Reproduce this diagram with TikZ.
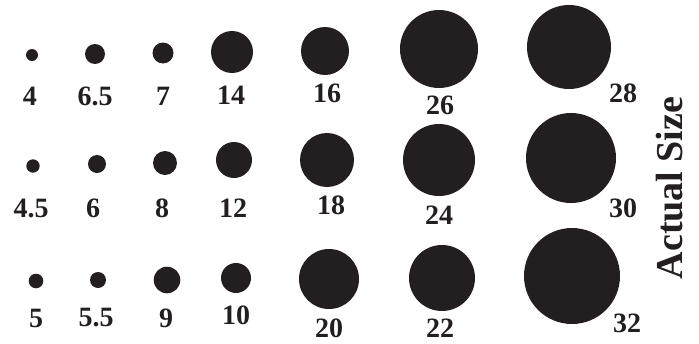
\documentclass[tikz,border=0pt]{standalone}
\usepackage{xcolor}
\usepackage{tikz}
\usepackage{fontspec}
\setmainfont{Liberation Serif}
\definecolor{dotblack}{HTML}{231F20}

\begin{document}
\begin{tikzpicture}[x=1pt,y=-1pt,
  sizelabel/.style={inner sep=0pt,text=dotblack,font=\fontsize{28}{28}\selectfont\bfseries}]
  \useasboundingbox (0,0) rectangle (699,343);
  % top row
  \fill[dotblack] (32,55) circle[radius=6];
  \fill[dotblack] (95,54) circle[radius=10];
  \fill[dotblack] (163,53) circle[radius=10.5];
  \fill[dotblack] (232,52) circle[radius=21];
  \fill[dotblack] (325,51) circle[radius=24];
  \fill[dotblack] (439,49) circle[radius=39];
  \fill[dotblack] (569,47) circle[radius=42];
  \node[sizelabel] (l4) at (30,96) {4};
  \node[sizelabel] (l6p5) at (95,96) {6.5};
  \node[sizelabel] (l7) at (163,96) {7};
  \node[sizelabel] (l14) at (231,95) {14};
  \node[sizelabel] (l16) at (327,93) {16};
  \node[sizelabel] (l26) at (440,105) {26};
  \node[sizelabel] (l28) at (623,93) {28};
  % middle row
  \fill[dotblack] (33,166) circle[radius=6.7];
  \fill[dotblack] (97,164) circle[radius=9];
  \fill[dotblack] (165,163) circle[radius=12];
  \fill[dotblack] (234,160) circle[radius=18];
  \fill[dotblack] (327,160) circle[radius=27];
  \fill[dotblack] (439,160) circle[radius=36];
  \fill[dotblack] (571,158) circle[radius=45];
  \node[sizelabel] (l4p5) at (31,208) {4.5};
  \node[sizelabel] (l6) at (93,208) {6};
  \node[sizelabel] (l8) at (162,208) {8};
  \node[sizelabel] (l12) at (233,208) {12};
  \node[sizelabel] (l18) at (331,205) {18};
  \node[sizelabel] (l24) at (439,215) {24};
  \node[sizelabel] (l30) at (623,208) {30};
  % bottom row
  \fill[dotblack] (36,281) circle[radius=7.3];
  \fill[dotblack] (98,280) circle[radius=8];
  \fill[dotblack] (167,280) circle[radius=13.3];
  \fill[dotblack] (236,278) circle[radius=15];
  \fill[dotblack] (329,279) circle[radius=30];
  \fill[dotblack] (442,278) circle[radius=33];
  \fill[dotblack] (572,276) circle[radius=48];
  \node[sizelabel] (l5) at (36,318) {5};
  \node[sizelabel] (l5p5) at (96,318) {5.5};
  \node[sizelabel] (l9) at (166,318) {9};
  \node[sizelabel] (l10) at (236,315) {10};
  \node[sizelabel] (l20) at (329,328) {20};
  \node[sizelabel] (l22) at (440,328) {22};
  \node[sizelabel] (l32) at (627,323) {32};
  % side title
  \node[sizelabel,font=\fontsize{38}{38}\selectfont\bfseries,rotate=90] (title) at (670,188) {Actual Size};
\end{tikzpicture}
\end{document}
